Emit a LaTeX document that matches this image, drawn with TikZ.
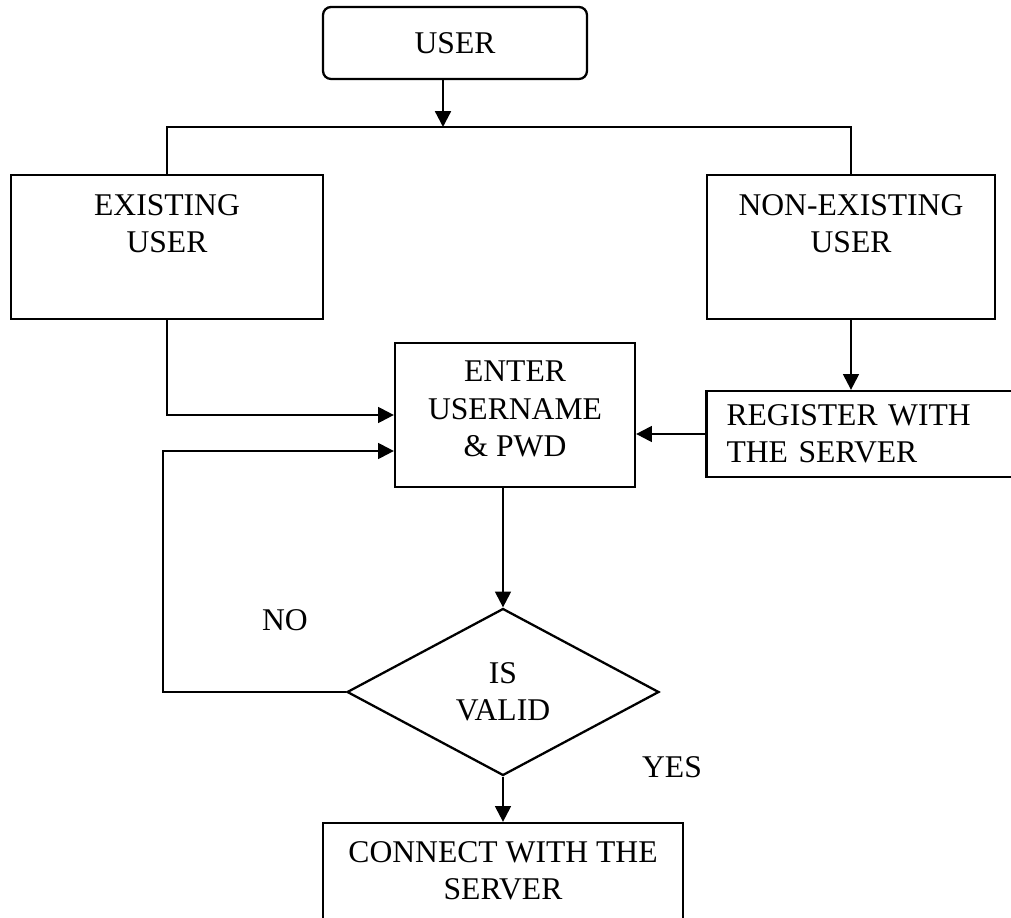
\documentclass[tikz,border=0pt]{standalone}
\usepackage{fontspec}
\setmainfont{Liberation Serif}
\usetikzlibrary{positioning,shapes.geometric,arrows.meta}

\begin{document}
\begin{tikzpicture}[x=0.02cm,y=-0.02cm]
      \tikzstyle{every node}=[font=\fontsize{18}{21.2}\selectfont]
      \tikzstyle{box}=[draw, rectangle, line width=1.3pt]
      \tikzstyle{txt}=[align=center, inner sep=0pt]
      \tikzstyle{arr}=[line width=1.3pt, -{Triangle[length=9pt,width=9pt]}]
      \clip (0,0) rectangle (1011,918);

      \node[box, rounded corners=0.16cm, minimum width=5.28cm, minimum height=1.44cm] (user) at (455,43) {USER};
      \node[box, minimum width=6.24cm, minimum height=2.88cm] (exist) at (167,247) {};
      \node[box, minimum width=5.76cm, minimum height=2.88cm] (nonex) at (851,247) {};
      \node[box, minimum width=4.8cm, minimum height=2.88cm] (enter) at (515,415) {};
      \node[box, minimum height=1.72cm, inner xsep=0.4cm, text width=5.86cm, align=left] (reg) at (873,434) {REGISTER WITH\\THE SERVER};
      \node[box, diamond, minimum width=6.24cm, minimum height=3.34cm, align=center, inner sep=0pt] (valid) at (503,692) {IS\\VALID};
      \node[box, minimum width=7.2cm, minimum height=2.8cm] (conn) at (503,893) {};

      \node[txt, below=0.4cm of exist.north] (existlbl) {EXISTING\\USER};
      \node[txt, below=0.4cm of nonex.north] (nonexlbl) {NON-EXISTING\\USER};
      \node[txt, below=0.38cm of enter.north] (enterlbl) {ENTER\\USERNAME\\\& PWD};
      \node[txt, below=0.38cm of conn.north] (connlbl) {CONNECT WITH THE\\SERVER};
      \node (no) at (285,620) {NO};
      \node (yes) at (672,767) {YES};

      \coordinate (split) at (443,127);
      \coordinate (loop) at (163,451);

      \draw[arr] (user.south -| split) -- (split);
      \draw[line width=1.3pt] (exist.north) |- (split) -| (nonex.north);
      \draw[arr] (exist.south) |- (enter.west);
      \draw[arr] (nonex.south) -- (nonex.south |- reg.north);
      \draw[arr] (reg.west) -- (reg.west -| enter.east);
      \draw[arr] (enter.south -| valid.north) -- (valid.north);
      \draw[arr] (valid.west) -| (loop) -- (loop -| enter.west);
      \draw[arr] (valid.south) -- (conn.north);
    \end{tikzpicture}
\end{document}
